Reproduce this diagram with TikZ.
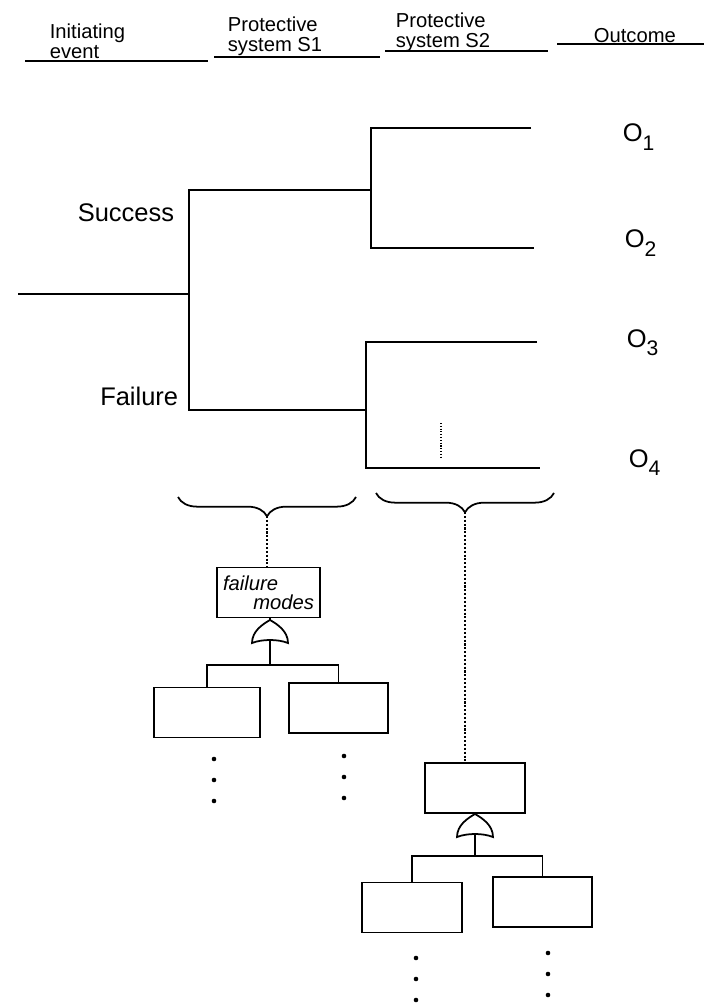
\documentclass[tikz,border=0pt]{standalone}
\usepackage{fontspec}
\setmainfont{Liberation Sans}
\usetikzlibrary{decorations.pathreplacing}

\newcommand{\outcome}[1]{O\raisebox{-0.6ex}{\fontsize{12}{12}\selectfont #1}}

\begin{document}
\begin{tikzpicture}[
  x=0.02cm, y=-0.02cm,
  line width=1pt,
  head/.style={anchor=north west, inner sep=0pt, align=left,
               font=\fontsize{11.5}{11.2}\selectfont},
  branch/.style={anchor=base east, inner sep=0pt, font=\fontsize{14.5}{14.5}\selectfont},
  outc/.style={anchor=base west, inner sep=0pt, font=\fontsize{14.5}{14.5}\selectfont},
  box/.style={rectangle, draw, minimum width=2cm, minimum height=1cm, inner sep=2pt},
  brace/.style={decorate, decoration={brace, mirror, amplitude=11pt}},
  dotline/.style={densely dotted, line width=1.2pt},
  gate/.pic={
    \draw[fill=white] (-18,0) .. controls (-18,-12) and (-7,-19) .. (0,-23)
      .. controls (7,-19) and (18,-12) .. (18,0)
      .. controls (8,-4) and (-8,-4) .. (-18,0) -- cycle;
    \coordinate (-top) at (0,-23);
    \coordinate (-bot) at (0,-3);
  }
]
\useasboundingbox (0,0) rectangle (704,1003);

% column headings
\node[head] (h0) at (49,23) {Initiating\\event};
\node[head] (h1) at (227,16) {Protective\\system S1};
\node[head] (h2) at (395,12) {Protective\\system S2};
\node[head] (h3) at (593,28) {Outcome};
\draw (25,61) -- (208,61);
\draw (214,57) -- (380,57);
\draw (385,51) -- (548,51);
\draw (557,44) -- (704,44);

% event tree
\coordinate (ie) at (18,294);
\coordinate (n1) at (189,294);
\coordinate (n2) at (371,190);
\coordinate (n3) at (366,410);
\coordinate (o1) at (531,128);
\coordinate (o2) at (534,248);
\coordinate (o3) at (537,342);
\coordinate (o4) at (540,468);

\draw (ie) -- (n1);
\draw (n2) -| (n1) |- (n3);
\draw (o1) -| (n2) |- (o2);
\draw (o3) -| (n3) |- (o4);
\draw[densely dotted, line width=0.6pt] (441,423) -- (441,458);

\node[branch] (suc) at (175,222) {Success};
\node[branch] (fail) at (179,405) {Failure};

\node[outc] (l1) at (622,142) {\outcome{1}};
\node[outc] (l2) at (624,248) {\outcome{2}};
\node[outc] (l3) at (626,347) {\outcome{3}};
\node[outc] (l4) at (628,467) {\outcome{4}};

% braces over the two systems
\draw[brace] (178,497) -- (356,497);
\draw[brace] (376,493) -- (554,493);
\coordinate (b1) at (267,516);
\coordinate (b2) at (465,512);

% fault tree of S1
\node[box, minimum width=2.06cm, align=left, inner sep=1pt,
      font=\itshape\fontsize{11.5}{11}\selectfont] (fm) at (268.5,592.5)
      {failure\\\hspace*{1.5em}modes};
\pic (g1) at (270,643) {gate};
\coordinate (j1) at (270,665);
\node[box, minimum width=2.12cm] (a1) at (207,712.5) {};
\node[box, minimum width=1.98cm] (a2) at (338.5,708) {};

\draw[dotline] (b1) -- (b1 |- fm.north);
\draw (fm.south -| g1-top) -- (g1-top);
\draw (g1-bot) -- (j1);
\draw (a1.north) |- (j1) -| (a2.north);

% fault tree of S2
\node[box] (top2) at (475,788) {};
\pic (g2) at (475,837) {gate};
\coordinate (j2) at (475,856);
\node[box] (c1) at (412,907.5) {};
\node[box, minimum width=1.98cm] (c2) at (542.5,902) {};

\draw[dotline] (b2) -- (b2 |- top2.north);
\draw (g2-bot) -- (j2);
\draw (c1.north) |- (j2) -| (c2.north);

% continuation dots
\foreach \x/\y in {214/759, 344/756, 416/958, 548/953}
  \foreach \k in {0,1,2}
    \fill (\x,{\y+21*\k}) circle[radius=1.3pt];
\end{tikzpicture}
\end{document}
